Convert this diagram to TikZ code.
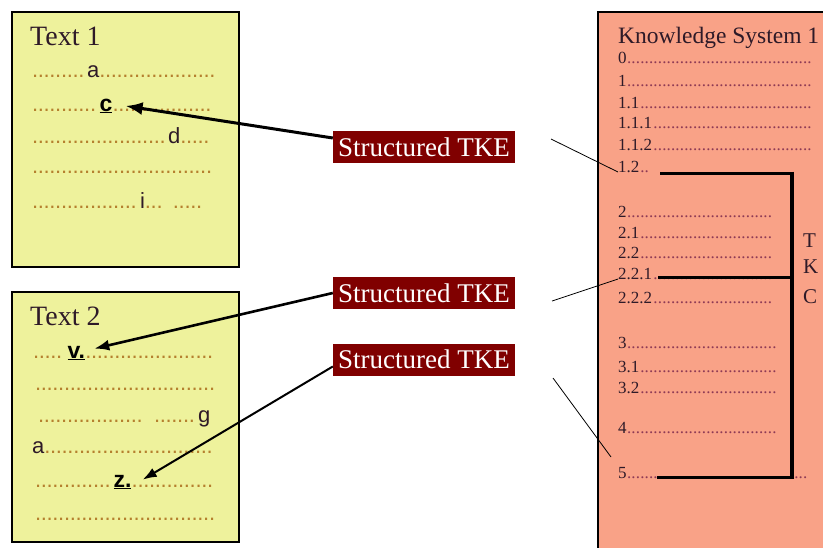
\documentclass[tikz,border=0pt]{standalone}
\usepackage{fontspec}
\setmainfont{Liberation Serif}
\newfontfamily\arialfont{Liberation Sans}
\usetikzlibrary{arrows.meta}

\definecolor{textyellow}{HTML}{EEF29C}
\definecolor{kssalmon}{HTML}{F9A287}
\definecolor{tkered}{HTML}{800000}
\definecolor{inkdark}{HTML}{2E1A28}
\definecolor{dotbrown}{HTML}{B5802E}
\definecolor{kdot}{HTML}{8E3A55}

% dotted leaders of a given width
\newcommand\dfill[2][5.8pt]{\hbox to #2{\leaders\hbox to #1{\hss{\color{dotbrown}.}\hss}\hfill}}
\newcommand\kline[2]{\hbox to #2{#1\leaders\hbox to 4.4pt{\hss{\color{kdot}.}\hss}\hfill}}

\tikzset{
  textbox/.style={draw=black, line width=1.2pt, fill=textyellow},
  ksbox/.style={draw=black, line width=1.2pt, fill=kssalmon},
  title/.style={anchor=base west, inner sep=0pt, font=\fontsize{28}{28}\selectfont, text=inkdark},
  dotline/.style={anchor=base west, inner sep=0pt, font=\arialfont\fontsize{22}{22}\selectfont, text=inkdark},
  markletter/.style={anchor=base west, inner sep=0pt, font=\arialfont\bfseries\fontsize{23}{23}\selectfont, text=black},
  kitem/.style={anchor=base west, inner sep=0pt, font=\fontsize{17}{17}\selectfont, text=inkdark},
  tkcletter/.style={anchor=base west, inner sep=0pt, font=\fontsize{21}{21}\selectfont, text=inkdark},
  tke/.style={fill=tkered, text=white, minimum width=182pt, minimum height=32pt, inner sep=0pt, font=\fontsize{27}{27}\selectfont},
  tkearrow/.style={-{Latex[length=17pt,width=13pt]}, line width=3pt},
  tkelink/.style={line width=0.8pt},
  tkc/.style={line width=3pt}
}

\begin{document}
\begin{tikzpicture}[x=1pt, y=-1pt]
\useasboundingbox (0,0) rectangle (823,547);
\clip (0,0) rectangle (823,547);

% The two texts and the knowledge system
\draw[textbox] (12,12) rectangle (239,267);
\draw[textbox] (12,292) rectangle (239,542);
\draw[ksbox] (598,12) rectangle (840,560);

% Text 1
\node[title] (t1) at (30,45) {Text 1};
\node[dotline] (t1l1) at (32,77) {\dfill{55pt}a\dfill{116pt}};
\node[dotline] (t1l2) at (32,111) {\dfill{67pt}};
\node[markletter] (c) at (t1l2.base east) {\underline{c}};
\node[dotline] (t1l2b) at (c.base east) {\dfill{104pt}};
\node[dotline] (t1l3) at (32,143) {\dfill{136pt}d\dfill{32pt}};
\node[dotline] (t1l4) at (32,173) {\dfill{181pt}};
\node[dotline] (t1l5) at (32,208) {\dfill{108pt}i\dfill{18pt}\hspace{10pt}\dfill{34pt}};

% Text 2
\node[title] (t2) at (30,325) {Text 2};
\node[dotline] (t2l1) at (33,358) {\dfill{34pt}};
\node[markletter] (v) at (t2l1.base east) {\underline{v.}};
\node[dotline] (t2l1b) at (v.base east) {\dfill{130pt}};
\node[dotline] (t2l2) at (35,390) {\dfill{180pt}};
\node[dotline] (t2l3) at (38,422) {\dfill{110pt}\hspace{6pt}\dfill{44pt}g};
\node[dotline] (t2l4) at (32,453) {a\dfill{170pt}};
\node[dotline] (t2l5) at (35,487) {\dfill{78pt}};
\node[markletter] (z) at (t2l5.base east) {\underline{z.}};
\node[dotline] (t2l5b) at (z.base east) {\dfill{82pt}};
\node[dotline] (t2l6) at (35,520) {\dfill{180pt}};

% Knowledge system items
\node[title, font=\fontsize{23.5}{24}\selectfont] (ks) at (618,43) {Knowledge System 1};
\foreach \lab/\yy/\w/\nm in {0/63/195/k0, 1/86/195/k1, 1.1/108/195/k11,
    1.1.1/128/195/k111, 1.1.2/150/195/k112, 1.2/172/34/k12,
    2/217/154/k2, 2.1/238/154/k21, 2.2/258/154/k22, 2.2.1/279/157/k221,
    2.2.2/303/155/k222, 3/348/159/k3, 3.1/372/159/k31, 3.2/393/159/k32,
    4/433/159/k4, 5/478/192/k5} {
  \node[kitem] (\nm) at (618,\yy) {\kline{\lab}{\w pt}};
}

% TKC bracket
\draw[tkc] (660,173) -- (792,173);
\draw[tkc] (658,277) -- (792,277);
\draw[tkc] (657,477) -- (792,477);
\draw[line width=4.5pt] (792,171.5) -- (792,478.5);
\foreach \ch/\yy in {T/247, K/273, C/303} {
  \node[tkcletter] (tkc\ch) at (803,\yy) {\ch};
}

% Links from the labels to the knowledge system
\coordinate (s1) at (551,139);
\coordinate (s2) at (552,301);
\coordinate (s3) at (553,378);
\coordinate (e3) at (611,457);
\draw[tkelink] (s1) -- (k12.base west);
\draw[tkelink] (s2) -- (k221.base west);
\draw[tkelink] (s3) -- (e3);

% Labels and arrows into the texts
\node[tke] (tke1) at (424,147) {Structured TKE};
\node[tke] (tke2) at (424,293) {Structured TKE};
\node[tke] (tke3) at (424,359.5) {Structured TKE};
\draw[tkearrow] ([yshift=9pt]tke1.west) -- ([xshift=13pt]c.east);
\draw[tkearrow, -{Latex[length=15pt,width=11pt]}, line width=2.6pt] (tke2.west) -- ([xshift=9pt,yshift=-3pt]v.north east);
\draw[tkearrow, -{Latex[length=14pt,width=10pt]}, line width=2pt] ([yshift=-7pt]tke3.west) -- ([xshift=11pt,yshift=-5pt]z.north east);
\end{tikzpicture}
\end{document}
